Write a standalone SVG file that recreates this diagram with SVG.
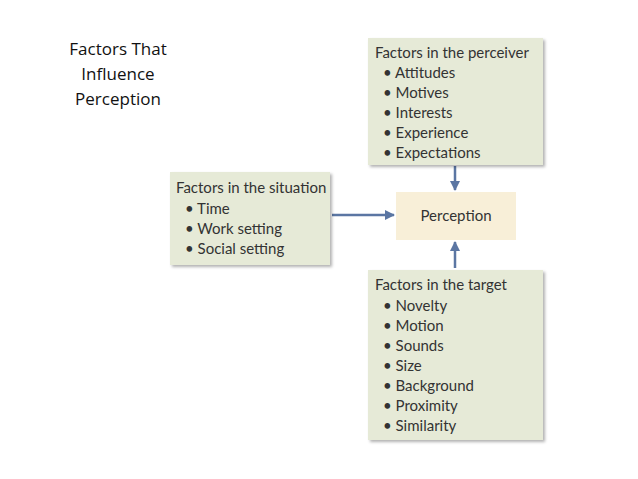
<svg xmlns="http://www.w3.org/2000/svg" width="638" height="479" viewBox="0 0 638 479">
<style>
.box{fill:#e6ead7;filter:url(#sh)}
.t{font-family:Lato,"Liberation Sans",sans-serif;font-size:15px;fill:#333}
.h{font-family:"Open Sans",Lato,sans-serif;font-size:17px;fill:#111;text-anchor:middle}
.c{stroke:#5b76a3;stroke-width:2.5;fill:none;marker-end:url(#a)}
</style>
<defs>
<filter id="sh" x="-10%" y="-10%" width="125%" height="125%"><feDropShadow dx="2" dy="2" stdDeviation="1.5" flood-color="#000" flood-opacity="0.3"/></filter>
<marker id="a" markerWidth="10" markerHeight="10" refX="9" refY="5" orient="auto" markerUnits="userSpaceOnUse"><path d="M0,0 L10,5 L0,10 Z" fill="#5b76a3"/></marker>
</defs>
<rect width="638" height="479" fill="#fff"/>
<g id="title"><text class="h" x="118" y="55">Factors That</text><text class="h" x="118" y="80">Influence</text><text class="h" x="118" y="105">Perception</text></g>
<g id="connectors">
<line class="c" x1="455" y1="166" x2="455" y2="190"/>
<line class="c" x1="332" y1="215" x2="394" y2="215"/>
<line class="c" x1="455" y1="268" x2="455" y2="242"/>
</g>
<g id="perceiver"><rect class="box" x="368" y="38" width="175" height="127"/>
<text class="t" x="375" y="58">Factors in the perceiver</text>
<text class="t" x="383" y="78">• Attitudes</text><text class="t" x="383" y="98">• Motives</text><text class="t" x="383" y="118">• Interests</text><text class="t" x="383" y="138">• Experience</text><text class="t" x="383" y="158">• Expectations</text></g>
<g id="situation"><rect class="box" x="170" y="172" width="160" height="93"/>
<text class="t" x="176" y="193">Factors in the situation</text>
<text class="t" x="185" y="214">• Time</text><text class="t" x="185" y="234">• Work setting</text><text class="t" x="185" y="254">• Social setting</text></g>
<g id="perception"><rect x="396" y="192" width="120" height="48" fill="#f8efd8"/>
<text class="t" x="456" y="221" text-anchor="middle">Perception</text></g>
<g id="target"><rect class="box" x="368" y="270" width="175" height="170"/>
<text class="t" x="375" y="290">Factors in the target</text>
<text class="t" x="383" y="311">• Novelty</text><text class="t" x="383" y="331">• Motion</text><text class="t" x="383" y="351">• Sounds</text><text class="t" x="383" y="371">• Size</text><text class="t" x="383" y="391">• Background</text><text class="t" x="383" y="411">• Proximity</text><text class="t" x="383" y="431">• Similarity</text></g>
</svg>
